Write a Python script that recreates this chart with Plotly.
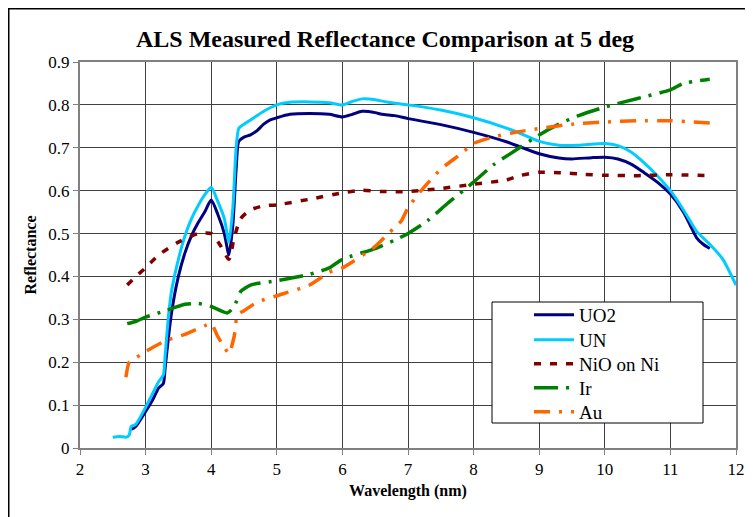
import plotly.graph_objects as go

# ---- data ----
uo2_x = [2.78, 2.85, 3.0, 3.1, 3.2, 3.27, 3.3, 3.35, 3.4, 3.5, 3.6, 3.7, 3.8, 3.9, 4.0, 4.1, 4.2, 4.27, 4.33, 4.38, 4.42, 4.5, 4.6, 4.7, 4.8, 4.9, 5.0, 5.2, 5.5, 5.8, 6.0, 6.15, 6.3, 6.5, 6.6, 6.8, 7.0, 7.5, 8.0, 8.5, 9.0, 9.3, 9.5, 9.8, 10.0, 10.2, 10.4, 10.6, 10.8, 11.0, 11.2, 11.3, 11.4, 11.5, 11.6]
uo2_y = [0.043, 0.05, 0.085, 0.11, 0.14, 0.15, 0.19, 0.26, 0.32, 0.40, 0.455, 0.495, 0.525, 0.55, 0.578, 0.545, 0.5, 0.45, 0.52, 0.65, 0.715, 0.725, 0.73, 0.74, 0.755, 0.765, 0.77, 0.778, 0.78, 0.778, 0.772, 0.778, 0.785, 0.782, 0.778, 0.775, 0.768, 0.754, 0.736, 0.714, 0.686, 0.676, 0.674, 0.677, 0.678, 0.674, 0.662, 0.642, 0.62, 0.592, 0.55, 0.52, 0.49, 0.475, 0.465]

un_x = [2.5, 2.6, 2.7, 2.75, 2.78, 2.85, 3.0, 3.1, 3.2, 3.27, 3.3, 3.35, 3.4, 3.5, 3.6, 3.7, 3.8, 3.9, 4.0, 4.1, 4.2, 4.27, 4.33, 4.38, 4.42, 4.5, 4.6, 4.7, 4.8, 5.0, 5.2, 5.5, 5.8, 6.0, 6.15, 6.3, 6.5, 6.7, 7.0, 7.5, 8.0, 8.5, 8.8, 9.0, 9.3, 9.6, 10.0, 10.2, 10.4, 10.6, 10.8, 11.0, 11.2, 11.4, 11.6, 11.8, 12.0]
un_y = [0.025, 0.027, 0.025, 0.03, 0.05, 0.055, 0.095, 0.125, 0.155, 0.17, 0.22, 0.31, 0.37, 0.44, 0.495, 0.535, 0.565, 0.59, 0.608, 0.575, 0.535, 0.48, 0.56, 0.70, 0.745, 0.755, 0.765, 0.775, 0.785, 0.8, 0.806, 0.807, 0.805, 0.8, 0.808, 0.814, 0.812, 0.806, 0.8, 0.788, 0.77, 0.746, 0.728, 0.715, 0.706, 0.706, 0.71, 0.705, 0.69, 0.665, 0.635, 0.6, 0.555, 0.505, 0.475, 0.44, 0.38]

nio_x = [2.72, 2.85, 3.0, 3.2, 3.5, 3.8, 4.0, 4.15, 4.27, 4.35, 4.45, 4.6, 4.8, 5.0, 5.5, 6.0, 6.3, 6.6, 7.0, 7.5, 8.0, 8.5, 8.7, 9.0, 9.3, 9.7, 10.0, 10.5, 11.0, 11.6]
nio_y = [0.38, 0.40, 0.42, 0.45, 0.48, 0.50, 0.50, 0.47, 0.44, 0.49, 0.535, 0.555, 0.565, 0.567, 0.58, 0.595, 0.601, 0.598, 0.598, 0.605, 0.615, 0.625, 0.635, 0.643, 0.642, 0.638, 0.636, 0.635, 0.637, 0.635]

ir_x = [2.72, 2.85, 3.0, 3.3, 3.6, 3.8, 4.0, 4.15, 4.25, 4.35, 4.45, 4.6, 5.0, 5.5, 5.8, 6.0, 6.5, 6.8, 7.0, 7.3, 7.6, 8.0, 8.3, 8.6, 9.0, 9.3, 9.6, 10.0, 10.5, 11.0, 11.2, 11.6]
ir_y = [0.29, 0.295, 0.305, 0.32, 0.335, 0.337, 0.33, 0.32, 0.315, 0.33, 0.365, 0.38, 0.39, 0.405, 0.42, 0.44, 0.465, 0.485, 0.50, 0.53, 0.57, 0.62, 0.66, 0.69, 0.73, 0.755, 0.775, 0.795, 0.815, 0.835, 0.85, 0.86]

au_x = [2.7, 2.75, 2.85, 3.0, 3.3, 3.6, 3.9, 4.0, 4.1, 4.2, 4.27, 4.35, 4.4, 4.5, 4.7, 5.0, 5.5, 5.8, 6.0, 6.5, 6.7, 6.9, 7.0, 7.2, 7.5, 7.8, 8.0, 8.3, 8.6, 9.0, 9.5, 10.0, 10.5, 11.0, 11.6]
au_y = [0.165, 0.2, 0.21, 0.225, 0.25, 0.265, 0.285, 0.29, 0.26, 0.235, 0.22, 0.26, 0.31, 0.32, 0.34, 0.355, 0.38, 0.41, 0.42, 0.47, 0.50, 0.53, 0.56, 0.60, 0.65, 0.685, 0.71, 0.725, 0.735, 0.745, 0.755, 0.76, 0.763, 0.763, 0.758]

x_ticks = [2, 3, 4, 5, 6, 7, 8, 9, 10, 11, 12]
y_ticks = [0, 0.1, 0.2, 0.3, 0.4, 0.5, 0.6, 0.7, 0.8, 0.9]

FONT = "Times New Roman"

# window-pixel -> paper helpers (plot area spans x 80..736, y 62..448 in the window)
px = lambda v: (v - 80) / 656.0
py = lambda v: (448 - v) / 386.0

names = ["UO2", "UN", "NiO on Ni", "Ir", "Au"]
legend_ids = ["legend", "legend2", "legend3", "legend4", "legend5"]
legend_rows = [315, 340, 364, 388, 412]

fig = go.Figure()
fig.add_trace(go.Scatter(x=uo2_x, y=uo2_y, name=names[0], mode="lines", legend=legend_ids[0],
                         line=dict(color="#000080", width=3, shape="spline", smoothing=0.6)))
fig.add_trace(go.Scatter(x=un_x, y=un_y, name=names[1], mode="lines", legend=legend_ids[1],
                         line=dict(color="#00CCFF", width=3, shape="spline", smoothing=0.6)))
fig.add_trace(go.Scatter(x=nio_x, y=nio_y, name=names[2], mode="lines", legend=legend_ids[2],
                         line=dict(color="#800000", width=3.5, dash="7px,9px", shape="spline", smoothing=0.6)))
fig.add_trace(go.Scatter(x=ir_x, y=ir_y, name=names[3], mode="lines", legend=legend_ids[3],
                         line=dict(color="#008000", width=3.5, dash="24px,8px,3px,8px", shape="spline", smoothing=0.6)))
fig.add_trace(go.Scatter(x=au_x, y=au_y, name=names[4], mode="lines", legend=legend_ids[4],
                         line=dict(color="#FF6600", width=3.5, dash="16px,9px,3px,9px", shape="spline", smoothing=0.6)))

axis_common = dict(showline=True, linecolor="#808080", linewidth=2, mirror=True,
                   showgrid=True, gridcolor="#404040", gridwidth=1, zeroline=False,
                   ticks="outside", ticklen=5, tickcolor="#808080", automargin=False)

fig.update_xaxes(range=[2, 12], tickvals=x_ticks, ticktext=[str(v) for v in x_ticks],
                 tickfont=dict(family=FONT, size=17, color="black"),
                 title=dict(text="<b>Wavelength (nm)</b>", font=dict(family=FONT, size=16, color="black"), standoff=6),
                 **axis_common)
fig.update_yaxes(range=[0, 0.9], tickvals=y_ticks, ticktext=[("%g" % v) for v in y_ticks],
                 tickfont=dict(family=FONT, size=17, color="black"),
                 title=dict(text="<b>Reflectance</b>", font=dict(family=FONT, size=16, color="black"), standoff=8),
                 **axis_common)

leg_x0, leg_x1, leg_y0, leg_y1 = 492, 703, 302, 423
legend_layout = {}
for lid, row in zip(legend_ids, legend_rows):
    legend_layout[lid] = dict(x=px(529), y=py(row), xanchor="left", yanchor="middle",
                              bgcolor="rgba(0,0,0,0)", borderwidth=0,
                              font=dict(family=FONT, size=19, color="black"),
                              itemwidth=40)

fig.update_layout(
    width=753, height=517,
    # the page body adds an 8px offset, so the figure is laid out 8px up/left
    margin=dict(l=72, r=25, t=54, b=77),
    font=dict(family=FONT, color="black"),
    paper_bgcolor="white", plot_bgcolor="white",
    title=dict(text="<b>ALS Measured Reflectance Comparison at 5 deg</b>",
               font=dict(family=FONT, size=24, color="black"),
               x=0.5007, xanchor="center", y=0.94, yanchor="middle"),
    showlegend=True,
    shapes=[
        dict(type="rect", xref="paper", yref="paper",
             x0=px(8), x1=px(790), y0=py(560), y1=py(8),
             line=dict(color="black", width=3), fillcolor="rgba(0,0,0,0)", layer="below"),
        dict(type="rect", xref="paper", yref="paper",
             x0=px(leg_x0), x1=px(leg_x1), y0=py(leg_y1), y1=py(leg_y0),
             line=dict(color="black", width=1), fillcolor="white", layer="above"),
    ],
    **legend_layout,
)

fig.write_html("out.html")
